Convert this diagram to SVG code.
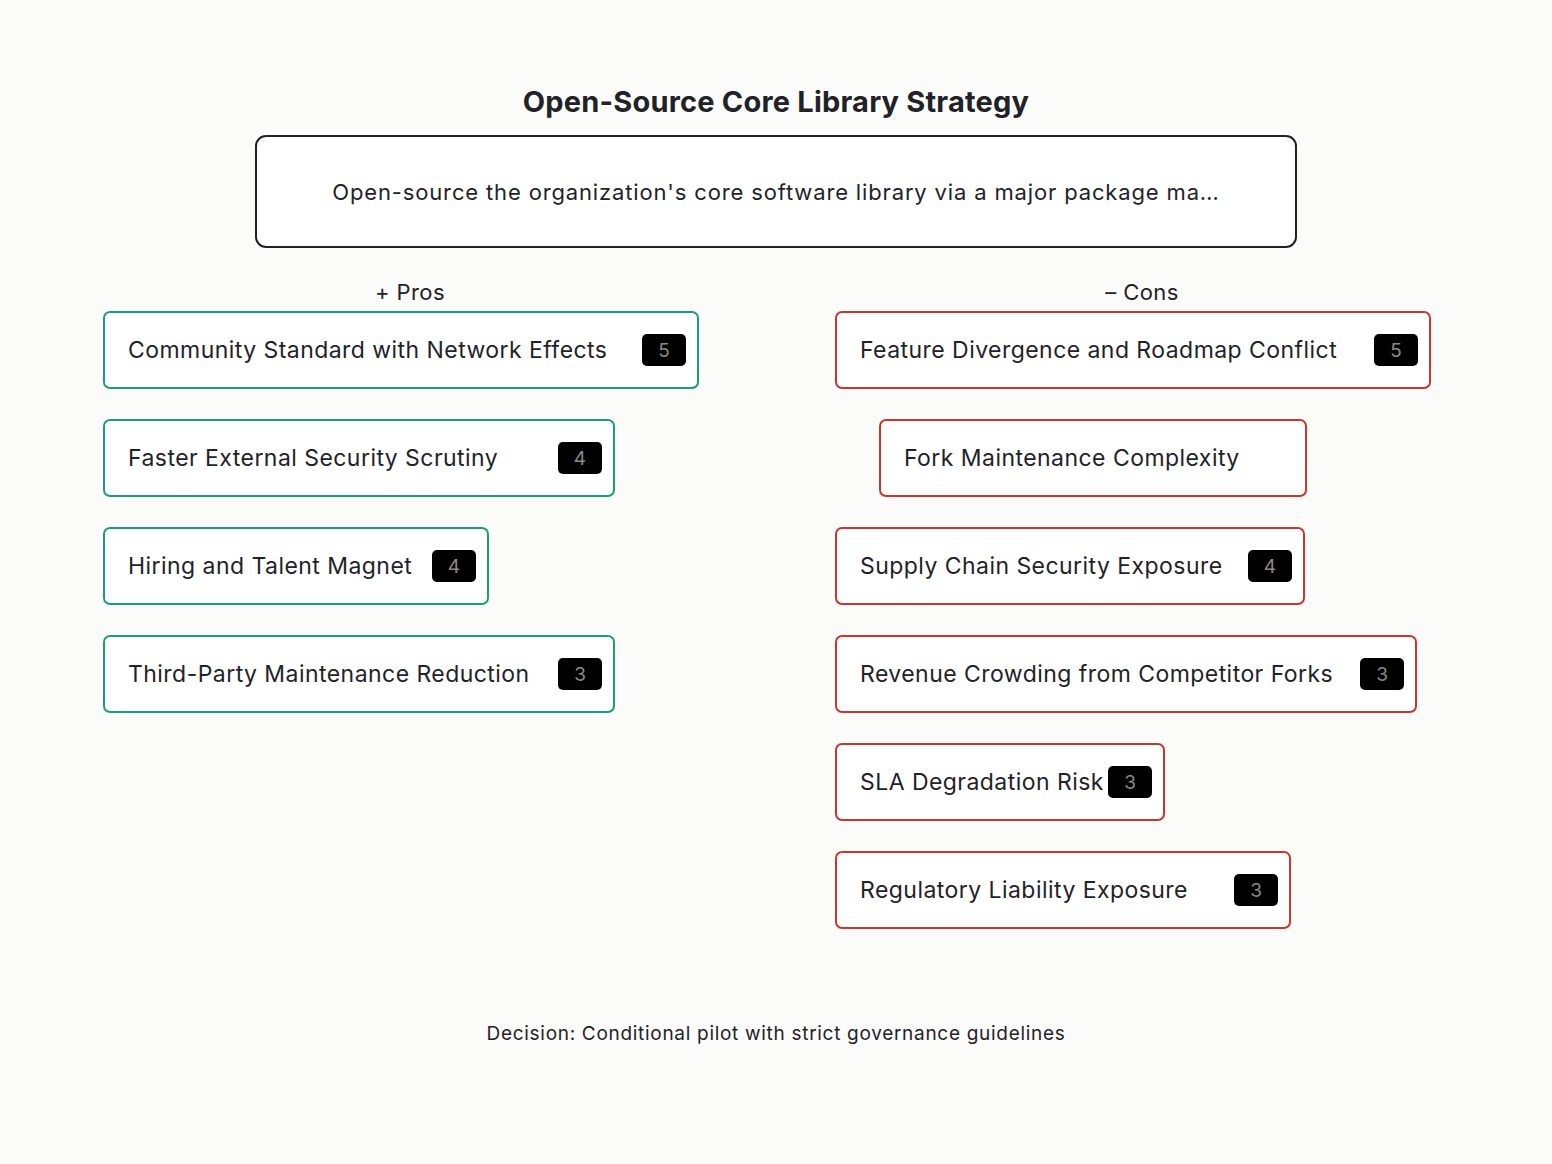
<svg xmlns="http://www.w3.org/2000/svg" width="1552" height="1164" viewBox="0 0 1552 1164">
<style>
text{font-family:Inter,"Noto Sans",sans-serif;fill:#1f2328}
.t{font-size:29px;font-weight:700;letter-spacing:0.2px}
.h{font-size:22px;letter-spacing:0.4px}
.tp{font-size:22px;letter-spacing:0.85px}
.l{font-size:23px;letter-spacing:0.45px}
.pro{fill:#fff;stroke:#1a9e7a;stroke-width:2}
.con{fill:#fff;stroke:#c8372d;stroke-width:2}
.b{fill:#000}
.bt{font-size:19px;fill:#8a8a8a;text-anchor:middle}
</style>
<rect width="1552" height="1164" fill="#fbfbf9"/>
<text class="t" x="776" y="112" text-anchor="middle">Open-Source Core Library Strategy</text>
<g id="topic"><rect x="256" y="136" width="1040" height="111" rx="10" fill="#fff" stroke="#1f2328" stroke-width="2"/>
<text class="tp" x="776" y="200" text-anchor="middle">Open-source the organization's core software library via a major package ma…</text></g>
<text class="h" x="410" y="300" text-anchor="middle">+ Pros</text>
<text class="h" x="1142" y="300" text-anchor="middle">– Cons</text>
<g id="p1"><rect class="pro" x="104" y="312" width="594" height="76" rx="6"/><text class="l" x="128" y="358">Community Standard with Network Effects</text><rect class="b" x="642" y="334" width="44" height="32" rx="5"/><text class="bt" x="664" y="357">5</text></g>
<g id="p2"><rect class="pro" x="104" y="420" width="510" height="76" rx="6"/><text class="l" x="128" y="466">Faster External Security Scrutiny</text><rect class="b" x="558" y="442" width="44" height="32" rx="5"/><text class="bt" x="580" y="465">4</text></g>
<g id="p3"><rect class="pro" x="104" y="528" width="384" height="76" rx="6"/><text class="l" x="128" y="574">Hiring and Talent Magnet</text><rect class="b" x="432" y="550" width="44" height="32" rx="5"/><text class="bt" x="454" y="573">4</text></g>
<g id="p4"><rect class="pro" x="104" y="636" width="510" height="76" rx="6"/><text class="l" x="128" y="682">Third-Party Maintenance Reduction</text><rect class="b" x="558" y="658" width="44" height="32" rx="5"/><text class="bt" x="580" y="681">3</text></g>
<g id="c1"><rect class="con" x="836" y="312" width="594" height="76" rx="6"/><text class="l" x="860" y="358">Feature Divergence and Roadmap Conflict</text><rect class="b" x="1374" y="334" width="44" height="32" rx="5"/><text class="bt" x="1396" y="357">5</text></g>
<g id="c2"><rect class="con" x="880" y="420" width="426" height="76" rx="6"/><text class="l" x="904" y="466">Fork Maintenance Complexity</text></g>
<g id="c3"><rect class="con" x="836" y="528" width="468" height="76" rx="6"/><text class="l" x="860" y="574">Supply Chain Security Exposure</text><rect class="b" x="1248" y="550" width="44" height="32" rx="5"/><text class="bt" x="1270" y="573">4</text></g>
<g id="c4"><rect class="con" x="836" y="636" width="580" height="76" rx="6"/><text class="l" x="860" y="682">Revenue Crowding from Competitor Forks</text><rect class="b" x="1360" y="658" width="44" height="32" rx="5"/><text class="bt" x="1382" y="681">3</text></g>
<g id="c5"><rect class="con" x="836" y="744" width="328" height="76" rx="6"/><text class="l" x="860" y="790">SLA Degradation Risk</text><rect class="b" x="1108" y="766" width="44" height="32" rx="5"/><text class="bt" x="1130" y="789">3</text></g>
<g id="c6"><rect class="con" x="836" y="852" width="454" height="76" rx="6"/><text class="l" x="860" y="898">Regulatory Liability Exposure</text><rect class="b" x="1234" y="874" width="44" height="32" rx="5"/><text class="bt" x="1256" y="897">3</text></g>
<g id="connectors"/>
<text x="776" y="1040" text-anchor="middle" font-size="19" letter-spacing="0.7">Decision: Conditional pilot with strict governance guidelines</text>
</svg>
